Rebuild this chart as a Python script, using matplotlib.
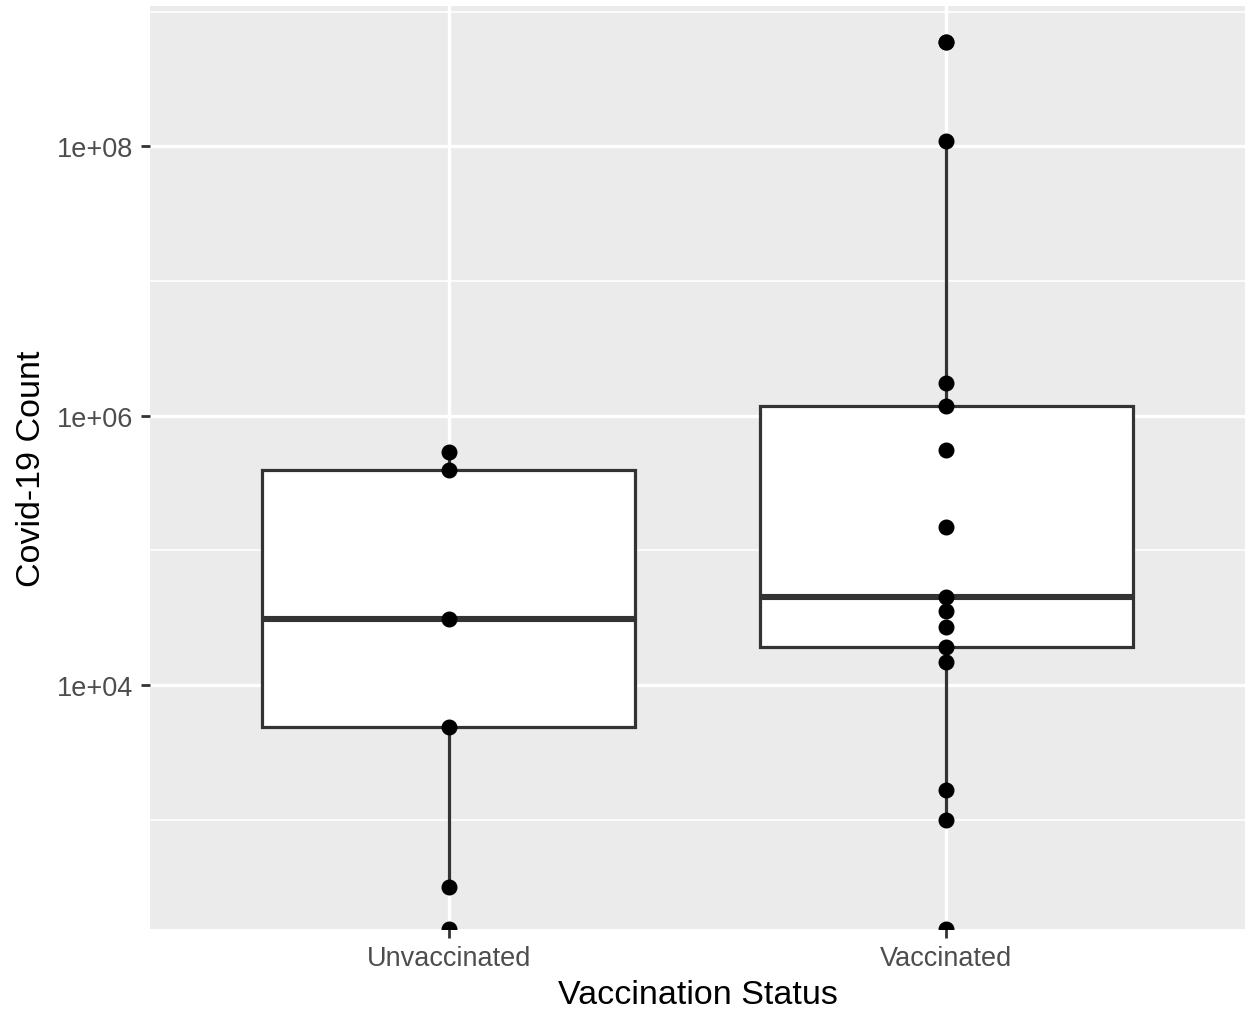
import numpy as np
import matplotlib
matplotlib.use("Agg")
import matplotlib.pyplot as plt
from matplotlib import cbook
from matplotlib.ticker import FixedLocator, NullFormatter, FixedFormatter

# ---- data ----
categories = ["Unvaccinated", "Vaccinated"]
unvaccinated = [0, 317, 4870, 30950, 392000, 537000]
vaccinated = [0, 1000, 1657, 14760, 19100, 26800, 35600, 44800, 148600,
              558000, 1180000, 1750000, 110000000, 600000000]
y_ticks = [1e4, 1e6, 1e8]
y_tick_labels = ["1e+04", "1e+06", "1e+08"]
y_minor = [1e3, 1e5, 1e7, 1e9]
y_top = 1.1e9
x_label = "Vaccination Status"
y_label = "Covid-19 Count"

groups = [unvaccinated, vaccinated]

plt.rcParams['font.family'] = ['Liberation Sans', 'DejaVu Sans']

fig = plt.figure(figsize=(12.49, 10.12), dpi=100)
W, H = 1249, 1012
top_px, bot_px = 7.3, 930
ax = fig.add_axes([150 / W, (H - bot_px) / H, (1245 - 150) / W, (bot_px - top_px) / H])
ax.set_facecolor("#EBEBEB")
for s in ax.spines.values():
    s.set_visible(False)

# boxplot stats in log10 space (like ggplot's scale transform before stat)
positions = np.arange(1, len(categories) + 1)
stats = []
all_logs = []
for g in groups:
    arr = np.asarray(g, dtype=float)
    logs = np.log10(arr[arr > 0])
    all_logs.extend(logs)
    st = cbook.boxplot_stats(logs, whis=1.5)[0]
    for k in ["med", "q1", "q3", "whislo", "whishi", "cilo", "cihi", "mean"]:
        st[k] = 10 ** st[k]
    st["fliers"] = 10 ** np.asarray(st["fliers"])
    stats.append(st)

lo, hi = min(all_logs), max(all_logs)
R = hi - lo
ymin = 10 ** (lo - 0.05 * R)

ax.set_yscale("log")
ax.set_ylim(ymin, y_top)
ax.set_xlim(0.4, len(categories) + 0.6)

box_col = "#333333"
ax.bxp(stats, positions=positions, widths=0.75, showcaps=False, showfliers=True,
       patch_artist=True,
       boxprops=dict(facecolor="white", edgecolor=box_col, linewidth=2.3),
       whiskerprops=dict(color=box_col, linewidth=2.3),
       medianprops=dict(color=box_col, linewidth=4.4, solid_capstyle="butt"),
       flierprops=dict(marker="o", markerfacecolor="black", markeredgecolor="black",
                       markersize=10.5, linestyle="none"),
       zorder=2)

# points (zeros -> -Inf -> drawn at panel bottom, like ggplot)
for pos, g in zip(positions, groups):
    arr = np.asarray(g, dtype=float)
    yv = np.where(arr > 0, arr, ymin)
    ax.plot(np.full(len(yv), pos), yv, "o", color="black", markersize=10.5,
            linestyle="none", zorder=4, clip_on=True)

# ticks & grid
ax.yaxis.set_major_locator(FixedLocator(y_ticks))
ax.yaxis.set_major_formatter(FixedFormatter(y_tick_labels))
ax.yaxis.set_minor_locator(FixedLocator(y_minor))
ax.yaxis.set_minor_formatter(NullFormatter())
ax.set_xticks(positions)
ax.set_xticklabels(categories)

ax.set_axisbelow(True)
ax.grid(which="major", axis="both", color="white", linewidth=2.4)
ax.grid(which="minor", axis="y", color="white", linewidth=1.2)
ax.tick_params(which="major", length=6.5, width=2.0, color="#333333",
               labelcolor="#4D4D4D", labelsize=19.5, pad=5.5)
ax.tick_params(axis="x", which="major", pad=5)
ax.tick_params(which="minor", length=0)

ax.set_xlabel(x_label, fontsize=24.5, color="black", labelpad=6)
ax.set_ylabel(y_label, fontsize=24.5, color="black", labelpad=7)

fig.savefig("out.png", dpi=100, facecolor="white")
